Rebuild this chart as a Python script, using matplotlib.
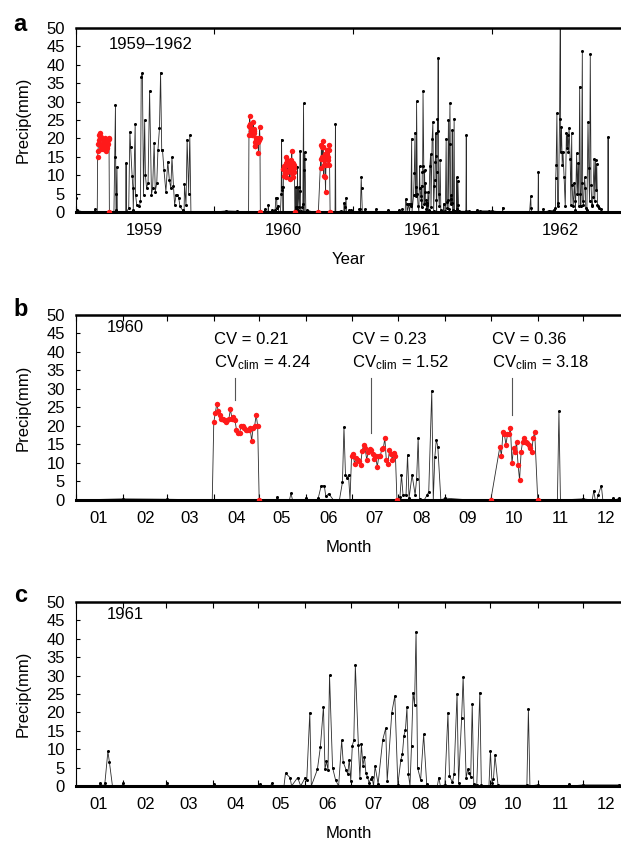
import matplotlib
matplotlib.use('Agg')
import matplotlib.pyplot as plt
import matplotlib.dates as mdates
import matplotlib.ticker as mticker
import pandas as pd

plt.rcParams['font.family'] = ['Liberation Sans', 'DejaVu Sans']
plt.rcParams['mathtext.fontset'] = 'custom'
plt.rcParams['mathtext.rm'] = 'Liberation Sans'
plt.rcParams['mathtext.it'] = 'Liberation Sans:italic'

# daily precipitation, (day of year from Jan 1, mm), days outside the red periods
rain_1959 = [(0, 3.7), (2, 0.5), (20, 0), (49, 0), (50, 0.7), (51, 0), (56, 0), (100, 0), (102, 15.0),
             (104, 29.1), (105, 5.0), (106, 0.5), (108, 12.3), (109, 0), (131, 0), (132, 13.3), (133, 0),
             (139, 1.0), (142, 21.8), (144, 17.8), (148, 9.7), (150, 6.5), (151, 0.5), (156, 23.9),
             (157, 4.7), (160, 2.0), (167, 1.5), (170, 3.0), (172, 36.8), (175, 37.9), (178, 4.7),
             (181, 25.0), (183, 10.1), (186, 6.5), (190, 8.0), (194, 32.9), (199, 4.7), (202, 6.5),
             (206, 18.7), (209, 5.5), (213, 8.0), (216, 16.8), (220, 22.7), (223, 37.9), (226, 16.9),
             (228, 16.9), (232, 11.3), (237, 5.5), (242, 13.7), (246, 8.8), (250, 6.5), (253, 14.9),
             (257, 7.0), (260, 2.0), (264, 4.7), (267, 4.7), (271, 3.8), (274, 1.5), (281, 0.5),
             (285, 0), (286, 7.5), (290, 2.0), (293, 19.7), (297, 5.0), (300, 20.9), (303, 0),
             (330, 0), (364, 0)]

rain_1960 = [(0, 0), (31, 0.3), (60, 0.2), (90, 0), (132, 0), (133, 0.7), (134, 0), (141, 0),
             (142, 1.8), (143, 0), (151, 0), (152, 0.6), (153, 0), (159, 0), (160, 0.5), (162, 3.9),
             (164, 3.9), (165, 1.0), (167, 1.7), (170, 0), (174, 0), (176, 4.8), (177, 19.7), (178, 6.8),
             (179, 5.9), (180, 6.8), (181, 0), (214, 0.9), (215, 6.8), (216, 1.4), (218, 1.4),
             (219, 12.2), (220, 0.5), (222, 6.8), (224, 1.4), (225, 5.7), (226, 16.7), (227, 0.3),
             (230, 0), (232, 1.4), (233, 2.2), (235, 29.5), (236, 0), (237, 11.5), (238, 16.3),
             (239, 14.4), (241, 0), (244, 0.5), (260, 0), (318, 0), (319, 24.0), (320, 0), (335, 0.3),
             (341, 0), (342, 2.5), (343, 0), (344, 0), (345, 1.4), (347, 3.9), (348, 0), (354, 0),
             (355, 0.5), (356, 0), (359, 0.5), (360, 0), (363, 0.3)]

rain_1961 = [(0, 0), (15, 0), (16, 0.7), (18, 0), (19, 0.7), (21, 9.4), (22, 6.5), (24, 0), (30, 0),
             (31, 0.7), (32, 0), (59, 0), (60, 0.7), (61, 0), (90, 0), (91, 0.5), (92, 0), (120, 0),
             (121, 0.5), (122, 0), (128, 0), (129, 0.7), (130, 0), (134, 0), (137, 0), (138, 3.5),
             (141, 2.3), (142, 0), (146, 2.3), (148, 0), (151, 2.3), (152, 1.6), (154, 19.9), (155, 0),
             (159, 4.5), (161, 10.7), (163, 21.6), (164, 4.6), (165, 6.7), (166, 4.3), (167, 30.1),
             (169, 5.0), (171, 1.6), (173, 0), (175, 12.4), (176, 6.5), (178, 4.3), (179, 3.2),
             (180, 7.2), (181, 1.4), (182, 11.0), (183, 12.4), (184, 32.8), (186, 11.1), (187, 2.3),
             (188, 11.4), (189, 5.5), (190, 8.0), (191, 3.4), (192, 2.5), (193, 0.9), (194, 1.8),
             (195, 2.4), (196, 0), (197, 5.4), (199, 0.6), (202, 12.5), (204, 15.7), (205, 1.4),
             (208, 19.9), (210, 24.5), (212, 0.4), (214, 7.2), (215, 8.6), (216, 13.7), (217, 15.2),
             (218, 21.4), (219, 3.2), (220, 0), (221, 11.0), (222, 25.4), (223, 22.1), (224, 41.9),
             (225, 5.0), (227, 1.6), (229, 14.0), (231, 0.6), (232, 0), (238, 0), (239, 2.3), (240, 0),
             (243, 0.3), (245, 19.9), (246, 2.7), (248, 1.0), (249, 3.3), (251, 25.0), (252, 0.9),
             (254, 18.4), (255, 29.5), (257, 2.1), (258, 4.5), (259, 3.6), (260, 2.4), (261, 22.2),
             (262, 0.6), (264, 0.3), (266, 25.4), (267, 0.2), (272, 0), (273, 9.4), (274, 0.9),
             (275, 1.9), (276, 8.4), (278, 0.2), (297, 0.2), (298, 20.8), (299, 0), (304, 0.3),
             (305, 0), (324, 0), (325, 0.5), (326, 0), (334, 0.3), (358, 0.3), (364, 0)]

rain_1962 = [(0, 0.3), (28, 0), (29, 1.2), (30, 0), (100, 0), (103, 4.3), (104, 1.0), (106, 0),
             (122, 0), (123, 10.9), (124, 0), (135, 0), (136, 0.8), (137, 0), (150, 0.3), (165, 0.5),
             (168, 1.0), (169, 9.3), (170, 12.8), (172, 26.8), (174, 1.5), (176, 2.5), (179, 25.3),
             (181, 58.0), (182, 16.4), (184, 23.2), (186, 12.8), (188, 16.4), (191, 9.4), (194, 1.5),
             (197, 21.4), (199, 17.5), (200, 20.9), (202, 16.4), (204, 22.9), (207, 14.4), (209, 2.0),
             (211, 21.4), (212, 7.3), (215, 1.5), (218, 7.8), (220, 3.0), (221, 0.5), (224, 16.0),
             (226, 5.0), (228, 13.3), (230, 1.5), (232, 34.1), (234, 5.0), (235, 1.5), (237, 8.0),
             (239, 43.7), (240, 3.0), (242, 2.0), (245, 9.4), (247, 6.5), (248, 1.0), (251, 0.5),
             (254, 24.4), (256, 12.0), (258, 3.0), (260, 42.9), (262, 7.3), (264, 2.0), (265, 1.5),
             (267, 4.0), (270, 14.4), (272, 3.0), (274, 14.2), (276, 6.0), (277, 13.0), (279, 2.0),
             (280, 1.5), (283, 1.0), (287, 0.8), (290, 0), (306, 0), (307, 20.4), (308, 0), (330, 0)]

# red periods: first day and daily values
red_1959_start = '1959-02-27'
red_1959 = [15.0, 16.5, 18.5, 19.5, 21.0, 21.5, 20.0, 18.5, 20.5, 18.0, 17.0, 17.5, 18.0, 18.0, 17.0,
            17.5, 19.0, 18.5, 19.5, 20.0, 17.5, 18.0, 17.0, 16.5, 17.5, 18.0, 19.0, 18.5, 19.5, 20.0, 19.8]
red_apr_1960 = [21.0, 23.5, 26.0, 24.0, 23.0, 22.0, 22.0, 21.5, 21.0, 21.5, 22.0, 24.5, 22.0, 22.5, 21.5,
                19.0, 18.0, 18.0, 20.0, 20.0, 19.5, 19.0, 19.0, 19.0, 19.5, 16.0, 19.5, 20.0, 23.0, 20.0]
red_jul_1960 = [11.8, 12.4, 9.8, 11.3, 10.7, 10.5, 9.5, 13.2, 14.9, 14.0, 10.9, 12.9, 13.8, 13.4, 12.4,
                11.1, 11.8, 8.9, 11.8, 11.8, 13.8, 14.0, 16.7, 10.7, 9.6, 13.4, 12.5, 10.9, 12.7, 12.0]
red_oct_1960 = [14.4, 12.0, 18.3, 17.7, 14.9, 17.7, 17.7, 19.4, 9.9, 14.0, 12.9, 15.8, 9.5, 5.4, 12.9,
                15.8, 16.8, 15.8, 15.3, 14.9, 14.0, 12.9, 16.8, 18.3]
red_zero_1959 = [88]
red_zero_1960 = [121, 212, 274, 305]

cv_texts = ['CV = 0.21\nCV$_{\\mathrm{clim}}$ = 4.24',
            'CV = 0.23\nCV$_{\\mathrm{clim}}$ = 1.52',
            'CV = 0.36\nCV$_{\\mathrm{clim}}$ = 3.18']
cv_dates = ['1960-04-01', '1960-07-01', '1960-10-02']
cv_line_dates = ['1960-04-15', '1960-07-14', '1960-10-15']
cv_line_bottoms = [27, 18, 23]


def build(year, rain, clusters, red_zero):
    base = pd.Timestamp(f'{year}-01-01')
    days, vals = zip(*rain)
    parts = [pd.DataFrame({'date': base + pd.to_timedelta(list(days), unit='D'),
                           'precip': vals, 'red': False})]
    for start, cv in clusters:
        parts.append(pd.DataFrame({'date': pd.date_range(start, periods=len(cv)),
                                   'precip': cv, 'red': True}))
    if red_zero:
        parts.append(pd.DataFrame({'date': base + pd.to_timedelta(red_zero, unit='D'),
                                   'precip': 0.0, 'red': True}))
    return pd.concat(parts).sort_values('date').reset_index(drop=True)


d1959 = build(1959, rain_1959, [(red_1959_start, red_1959)], red_zero_1959)
d1960 = build(1960, rain_1960, [('1960-04-01', red_apr_1960), ('1960-07-01', red_jul_1960),
                                ('1960-10-07', red_oct_1960)], red_zero_1960)
d1961 = build(1961, rain_1961, [], [])
d1962 = build(1962, rain_1962, [], [])
d_all = pd.concat([d1959, d1960, d1961, d1962]).reset_index(drop=True)


def draw(ax, df):
    ax.plot(df['date'], df['precip'], color='#2b2b2b', lw=0.6, zorder=2)
    blk = df[~df['red']]
    ax.plot(blk['date'], blk['precip'], 'o', color='black', ms=2.2, mew=0, zorder=3)
    r = df[df['red']]
    ax.plot(r['date'], r['precip'], 'o', color='#ff1a1a', ms=3.9, mew=0, zorder=4)


def style(ax, xlabel):
    ax.set_ylim(0, 50)
    ax.set_yticks(range(0, 51, 5))
    ax.set_ylabel('Precip(mm)', fontsize=12, labelpad=11)
    ax.set_xlabel(xlabel, fontsize=12, labelpad=10)
    ax.spines['right'].set_visible(False)
    ax.spines['bottom'].set_linewidth(2.2)
    ax.spines['top'].set_linewidth(1.8)
    ax.spines['left'].set_linewidth(0.8)
    ax.tick_params(axis='y', direction='in', length=3, width=0.8, labelsize=12, pad=8)
    ax.tick_params(axis='x', which='major', direction='in', length=4, width=0.8,
                   top=True, bottom=True, labelbottom=False)
    ax.tick_params(axis='x', which='minor', length=0, labelsize=12, pad=8)
    ax.xaxis.set_major_formatter(mticker.NullFormatter())


fig = plt.figure(figsize=(6.21, 8.43), dpi=100)
ax_a = fig.add_axes([0.1224, 0.7485, 0.8776, 0.2183])
ax_b = fig.add_axes([0.1224, 0.4069, 0.8776, 0.2195])
ax_c = fig.add_axes([0.1224, 0.0676, 0.8776, 0.2183])

# panel a
draw(ax_a, d_all)
ax_a.set_xlim(pd.Timestamp('1959-01-01'), pd.Timestamp('1962-12-08'))
ax_a.xaxis.set_major_locator(mdates.YearLocator())
ax_a.xaxis.set_minor_locator(mdates.YearLocator(month=7, day=1))
ax_a.xaxis.set_minor_formatter(mdates.DateFormatter('%Y'))
style(ax_a, 'Year')
ax_a.text(pd.Timestamp('1959-03-29'), 45.5, '1959–1962', fontsize=12, va='center')

# panel b
draw(ax_b, d1960)
ax_b.set_xlim(pd.Timestamp('1960-01-01'), pd.Timestamp('1960-12-26'))
ax_b.xaxis.set_major_locator(mdates.MonthLocator())
ax_b.xaxis.set_minor_locator(mdates.MonthLocator(bymonthday=16))
ax_b.xaxis.set_minor_formatter(mdates.DateFormatter('%m'))
style(ax_b, 'Month')
ax_b.text(pd.Timestamp('1960-01-21'), 46.5, '1960', fontsize=12, va='center')
for txt, d, ld, lb in zip(cv_texts, cv_dates, cv_line_dates, cv_line_bottoms):
    ax_b.text(pd.Timestamp(d), 40.0, txt, fontsize=12, va='center', linespacing=1.5)
    ax_b.plot([pd.Timestamp(ld)] * 2, [33, lb], color='#555555', lw=0.8)

# panel c
draw(ax_c, d1961)
ax_c.set_xlim(pd.Timestamp('1961-01-01'), pd.Timestamp('1961-12-26'))
ax_c.xaxis.set_major_locator(mdates.MonthLocator())
ax_c.xaxis.set_minor_locator(mdates.MonthLocator(bymonthday=16))
ax_c.xaxis.set_minor_formatter(mdates.DateFormatter('%m'))
style(ax_c, 'Month')
ax_c.text(pd.Timestamp('1961-01-21'), 46.5, '1961', fontsize=12, va='center')

# panel letters
for letter, y in [('a', 0.985), ('b', 0.647), ('c', 0.307)]:
    fig.text(0.022, y, letter, fontsize=17, fontweight='bold', va='top')

fig.savefig('out.png', dpi=100)
plt.close(fig)
